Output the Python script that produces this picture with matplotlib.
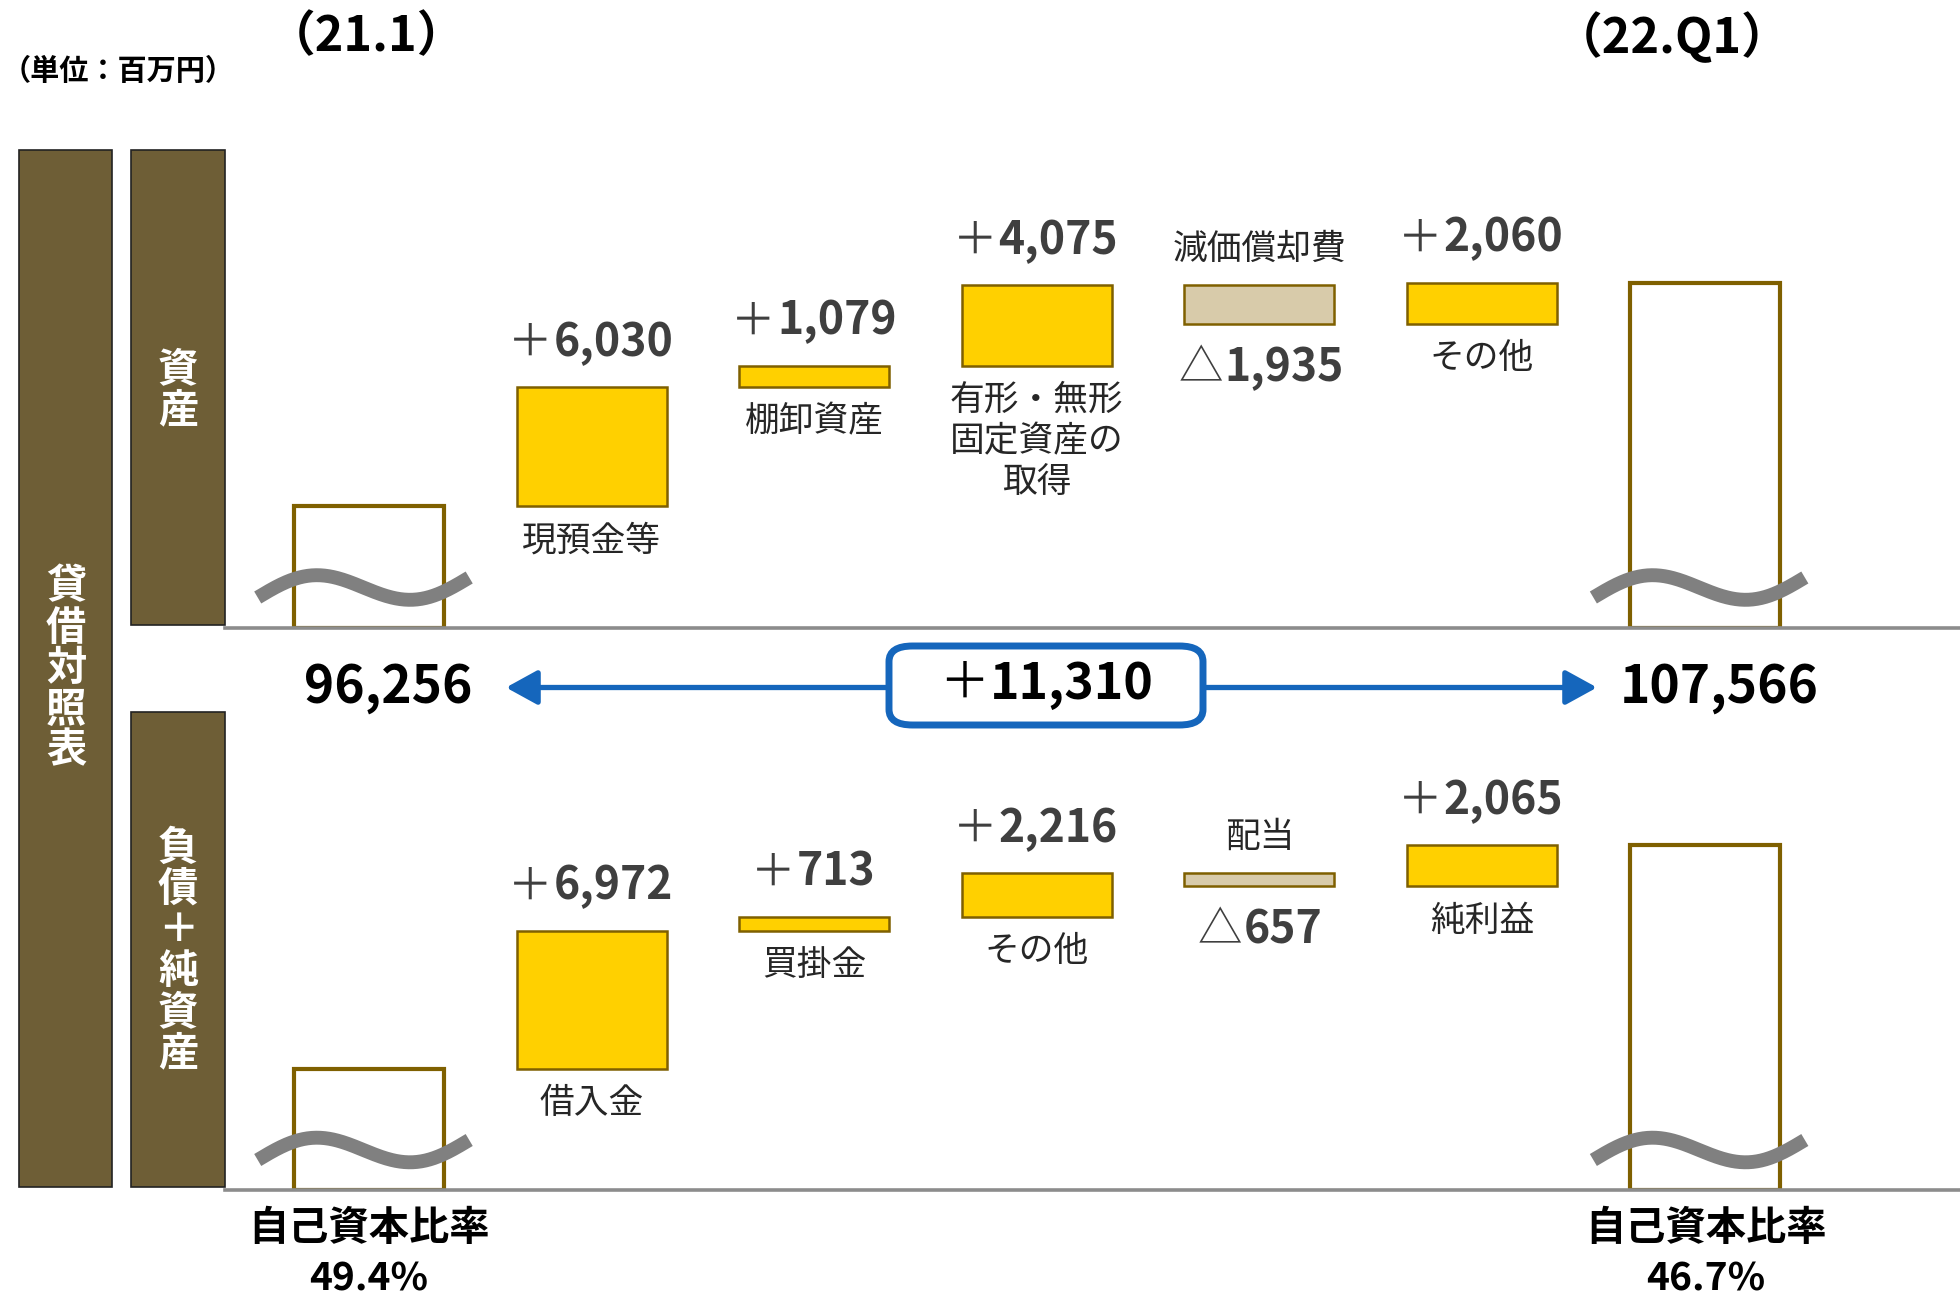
import numpy as np
import matplotlib
matplotlib.use('Agg')
import matplotlib.pyplot as plt
from matplotlib.patches import Rectangle, FancyBboxPatch, FancyArrowPatch
from matplotlib.font_manager import FontProperties
from matplotlib.textpath import TextPath

FAM = ['Noto Sans CJK JP', 'DejaVu Sans']
plt.rcParams['font.family'] = FAM

# ---------------- data ----------------
periods = ['（21.1）', '（22.Q1）']
unit_label = '（単位：百万円）'
total_start = 96256
total_end = 107566
total_change = 11310
asset_categories = ['現預金等', '棚卸資産', '有形・無形\n固定資産の\n取得', '減価償却費', 'その他']
asset_changes = [6030, 1079, 4075, -1935, 2060]
liab_categories = ['借入金', '買掛金', 'その他', '配当', '純利益']
liab_changes = [6972, 713, 2216, -657, 2065]
equity_ratio_label = '自己資本比率'
equity_ratios = ['49.4%', '46.7%']
section_main = '貸借対照表'
section_assets = '資産'
section_liab = '負債＋純資産'

# ---------------- style ----------------
YELLOW = '#FFD000'
TAN = '#D8CBAA'
EDGE = '#7F6000'
BROWN = '#6E5E36'
BLUE = '#1566BC'
GRAY = '#8C8C8C'
VAL = '#3F3F3F'
CAT = '#262626'

W, H = 1960, 1295
fig = plt.figure(figsize=(W / 100, H / 100), dpi=100)


def fx(x):
    return x / W


def fy(y):
    return 1 - y / H


UPP = 50.7            # data units per pixel
AX_H_PX = 478
Y0 = total_start - 121.5 * UPP
Y1 = Y0 + AX_H_PX * UPP
XL = (-0.647, 7.147)
BW = 0.674


def text_w(s, size, weight):
    fp = FontProperties(family='Noto Sans CJK JP', weight=weight, size=size)
    ext = TextPath((0, 0), s, prop=fp).get_extents()
    return ext.width


def split_offsets(sign, num, size, dx=0):
    ws = text_w(sign, size, 'normal')
    wn = text_w(num, size, 'bold')
    gap = 0.03 * size
    total = ws + gap + wn
    left = dx - total / 2
    return left + ws, left + ws + gap


def signed_label(ax, xy, sign, num, dy, size, color, dx=0):
    xs, xn = split_offsets(sign, num, size, dx)
    ax.annotate(sign, xy, xytext=(xs, dy), textcoords='offset points',
                ha='right', va='center', fontsize=size, fontweight='normal', color=color,
                annotation_clip=False, zorder=6)
    ax.annotate(num, xy, xytext=(xn, dy), textcoords='offset points',
                ha='left', va='center', fontsize=size, fontweight='bold', color=color,
                annotation_clip=False, zorder=6)


def make_ax(base_px):
    ax = fig.add_axes([fx(225), fy(base_px), fx(1960) - fx(225), AX_H_PX / H])
    ax.set_xlim(*XL)
    ax.set_ylim(Y0, Y1)
    for s in ['top', 'left', 'right']:
        ax.spines[s].set_visible(False)
    ax.spines['bottom'].set_color(GRAY)
    ax.spines['bottom'].set_linewidth(2.6)
    ax.spines['bottom'].set_zorder(3)
    ax.set_xticks([])
    ax.set_yticks([])
    ax.patch.set_alpha(0)
    return ax


def squiggle(ax, xc):
    t = np.linspace(0, 1, 200)
    xs = xc - 0.5 + 0.95 * t
    ys = Y0 + UPP * (30 + 20 * t + 17 * np.sin(2 * np.pi * t))
    ax.plot(xs, ys, color='#808080', lw=10, solid_capstyle='butt', zorder=5, clip_on=False)


def draw_panel(ax, changes, cats):
    n = len(changes)
    ax.bar(0, total_start - Y0, bottom=Y0, width=BW, facecolor='white',
           edgecolor=EDGE, linewidth=3.0, zorder=2)
    running = total_start
    for i, (c, cat) in enumerate(zip(changes, cats)):
        x = i + 1
        lo = running + min(c, 0)
        hi = lo + abs(c)
        ax.bar(x, abs(c), bottom=lo, width=BW, facecolor=YELLOW if c > 0 else TAN,
               edgecolor=EDGE, linewidth=1.8, zorder=2)
        if c > 0:
            signed_label(ax, (x, hi), '＋', f'{c:,}', 32, 32, VAL, dx=2)
            ax.annotate(cat, (x, lo), xytext=(0, -12.5), textcoords='offset points',
                        ha='center', va='top', fontsize=25, color=CAT, linespacing=1.22)
        else:
            ax.annotate(cat, (x, hi), xytext=(0, 26), textcoords='offset points',
                        ha='center', va='center', fontsize=25, color=CAT)
            signed_label(ax, (x, lo), '△', f'{-c:,}', -32, 32, VAL)
        running += c
    ax.bar(n + 1, total_end - Y0, bottom=Y0, width=BW, facecolor='white',
           edgecolor=EDGE, linewidth=3.0, zorder=2)
    squiggle(ax, 0)
    squiggle(ax, n + 1)


ax_top = make_ax(627.5)
ax_bot = make_ax(1190)
draw_panel(ax_top, asset_changes, asset_categories)
draw_panel(ax_bot, liab_changes, liab_categories)

# ---------------- side columns ----------------
for (x0, y0, x1, y1) in [(19, 150, 112, 1187), (131, 150, 225, 625), (131, 712, 225, 1187)]:
    fig.add_artist(Rectangle((fx(x0), fy(y1)), fx(x1) - fx(x0), (y1 - y0) / H,
                             transform=fig.transFigure, facecolor=BROWN, edgecolor='#222222',
                             linewidth=1.2))

fig.text(fx(66), fy(669), '\n'.join(section_main), ha='center', va='center', color='white',
         fontsize=29, fontweight='bold', linespacing=1.0)
fig.text(fx(178), fy(390), '\n'.join(section_assets), ha='center', va='center', color='white',
         fontsize=29, fontweight='bold', linespacing=1.0)
fig.text(fx(178), fy(951), '\n'.join(section_liab), ha='center', va='center', color='white',
         fontsize=29, fontweight='bold', linespacing=1.0)

# ---------------- titles ----------------
fig.text(fx(2), fy(71), unit_label, ha='left', va='center', fontsize=21, fontweight='bold', color='black')
fig.text(fx(366), fy(37), periods[0], ha='center', va='center', fontsize=35, fontweight='bold', color='black')
fig.text(fx(1672), fy(37), periods[1], ha='center', va='center', fontsize=35, fontweight='bold', color='black')

# ---------------- totals + arrow ----------------
fig.text(fx(388), fy(687), f'{total_start:,}', ha='center', va='center', fontsize=37,
         fontweight='bold', color='black')
fig.text(fx(1719), fy(687), f'{total_end:,}', ha='center', va='center', fontsize=37,
         fontweight='bold', color='black')

for xa, xb in [(888, 506), (1204, 1597)]:
    fig.add_artist(FancyArrowPatch((fx(xa), fy(687.5)), (fx(xb), fy(687.5)),
                                   transform=fig.transFigure, arrowstyle='-|>,head_length=0.4,head_width=0.22',
                                   mutation_scale=48, color=BLUE, lw=3.8, shrinkA=0, shrinkB=0))

fig.add_artist(FancyBboxPatch((fx(889), fy(725)), fx(1203) - fx(889), (725 - 646) / H,
                              boxstyle='round,pad=0,rounding_size=0.012', transform=fig.transFigure,
                              facecolor='white', edgecolor=BLUE, linewidth=5, zorder=4))
xs_pt, xn_pt = split_offsets('＋', f'{total_change:,}', 36)
PX_PER_PT = 100 / 72
t1 = fig.text(fx(1050 + xs_pt * PX_PER_PT), fy(684), '＋', ha='right', va='center', fontsize=36,
              fontweight='normal', color='black')
t2 = fig.text(fx(1050 + xn_pt * PX_PER_PT), fy(684), f'{total_change:,}', ha='left', va='center',
              fontsize=36, fontweight='bold', color='black')
t1.set_zorder(6)
t2.set_zorder(6)

# ---------------- equity ratio ----------------
for xc, r in zip([369, 1706], equity_ratios):
    fig.text(fx(xc), fy(1229), equity_ratio_label, ha='center', va='center', fontsize=29,
             fontweight='bold', color='black')
    fig.text(fx(xc), fy(1279), r, ha='center', va='center', fontsize=28,
             fontweight='bold', color='black')

fig.savefig('out.png', dpi=100, facecolor='white')
